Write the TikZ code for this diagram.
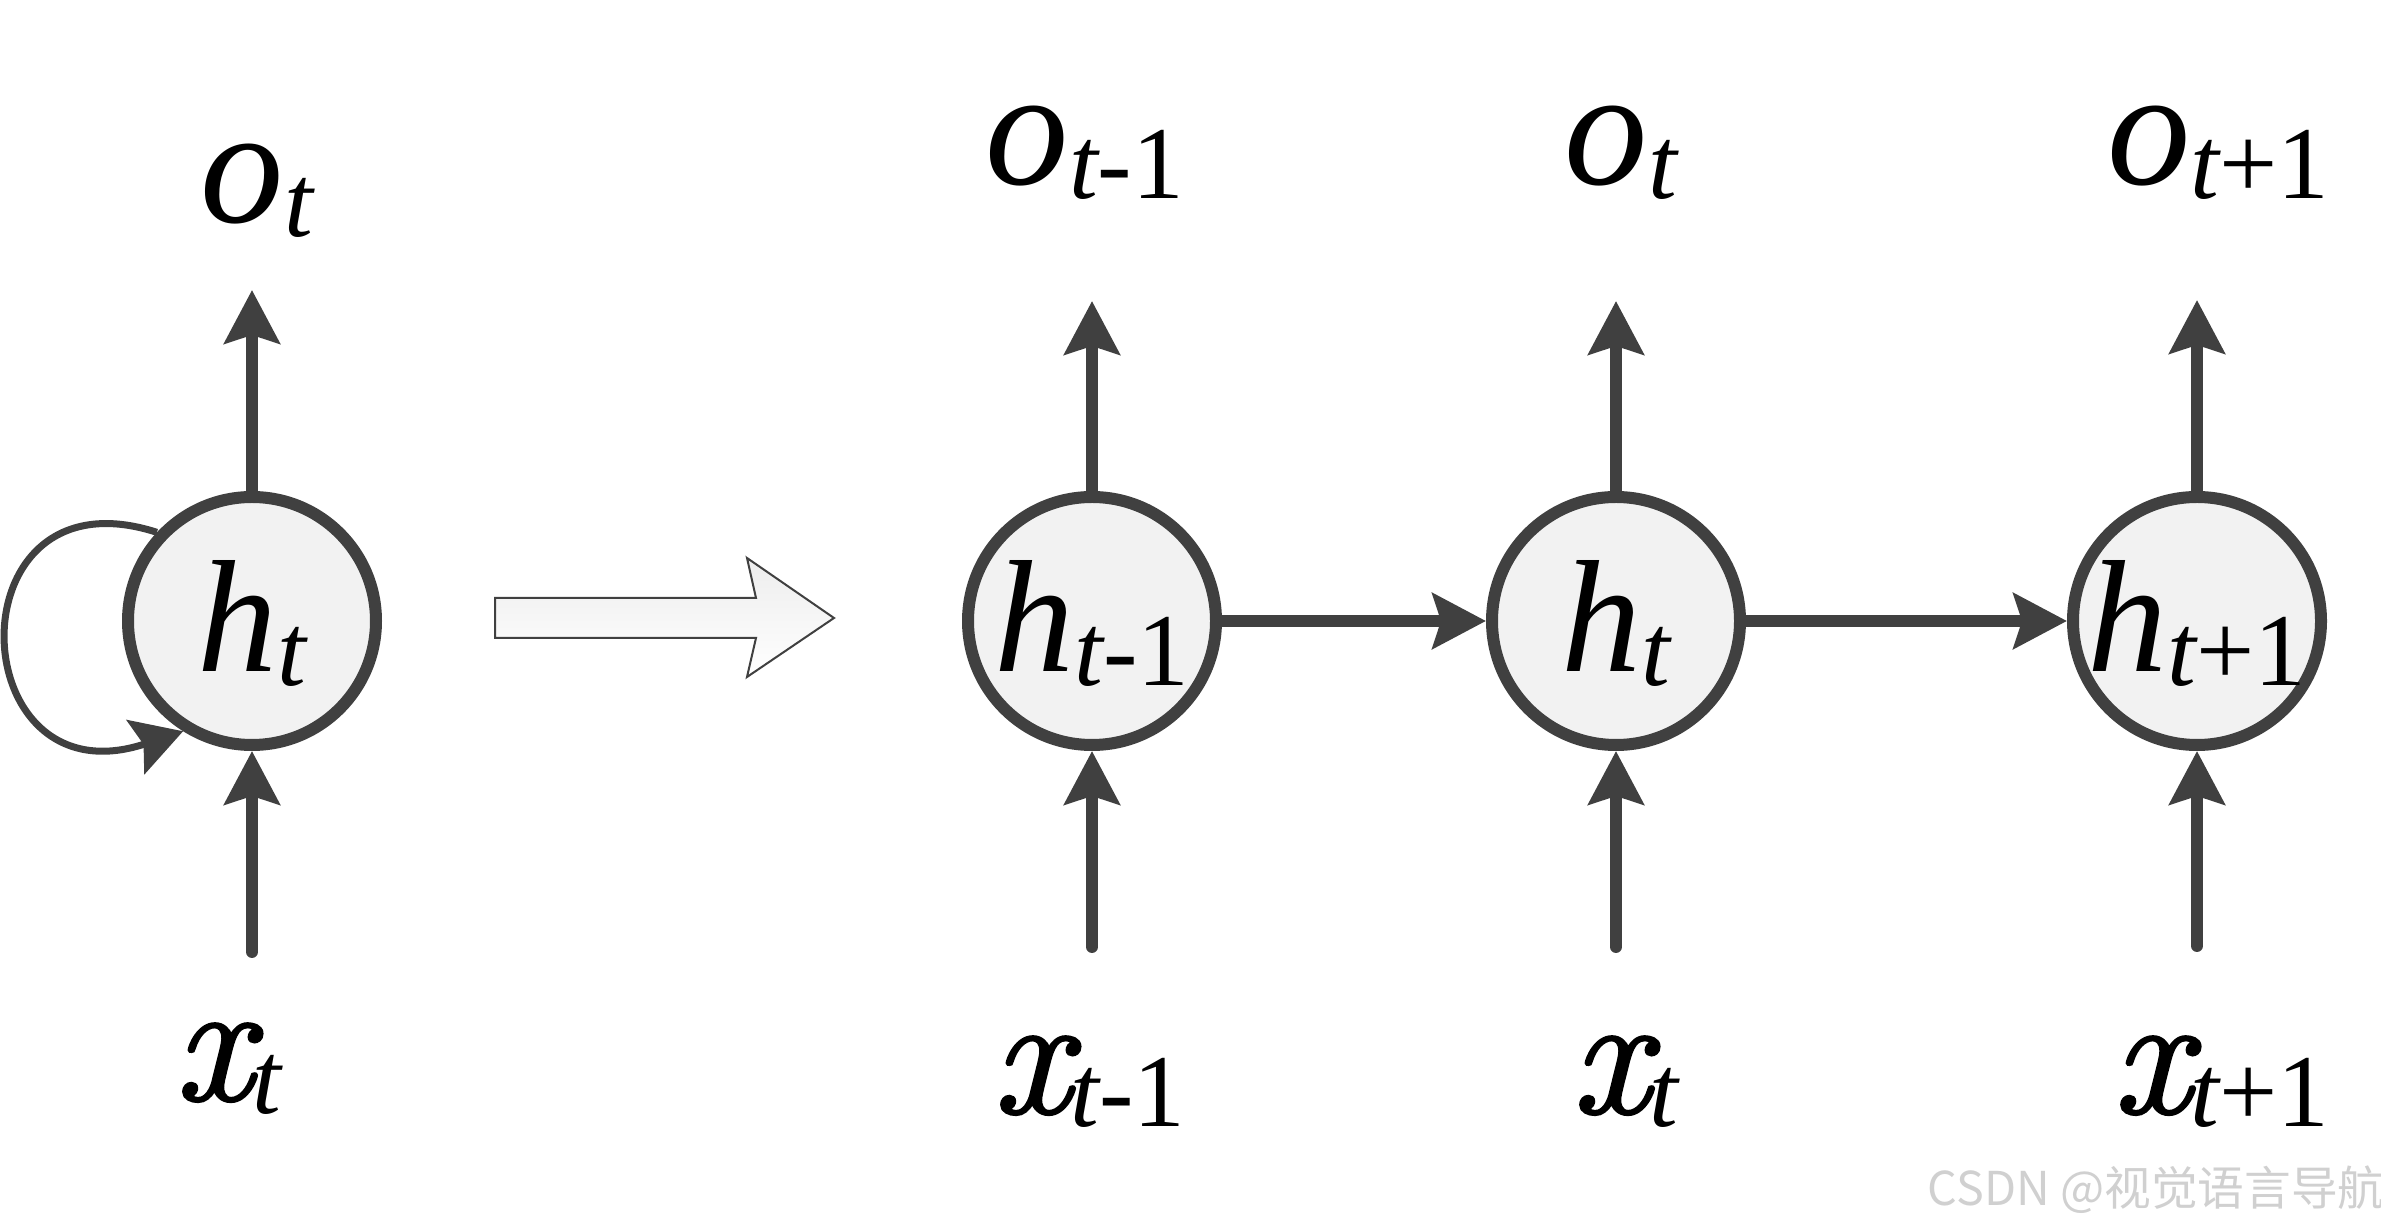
\documentclass[tikz,border=0pt]{standalone}
\usepackage{fontspec}
\newfontfamily\cjkfont{Noto Sans CJK SC}
\newfontfamily\symfont{Liberation Serif}
\newfontfamily\xfont{Latin Modern Roman}[ItalicFeatures={FakeBold=1.6}]
\usetikzlibrary{arrows.meta,backgrounds}
\definecolor{dk}{HTML}{404040}
\definecolor{nodefill}{HTML}{F2F2F2}
\definecolor{wmcol}{HTML}{D0D0D0}
\newcommand\rnnlab[3]{{\symfont\fontsize{#1}{#1}\selectfont\itshape #2}\raisebox{-4pt}{\symfont\fontsize{31pt}{31pt}\selectfont #3}}
\newcommand\xlab[1]{{\xfont\fontsize{52pt}{52pt}\selectfont\itshape x}\raisebox{-4pt}{\symfont\fontsize{31pt}{31pt}\selectfont #1}}
\begin{document}
\begin{tikzpicture}[x=0.3pt,y=-0.3pt,
  rnn/.style={circle, draw=dk, fill=nodefill, line width=3.6pt, minimum size=74.4pt,
    inner sep=0pt, text height=30.6pt, text depth=0pt},
  lbl/.style={inner sep=0pt, anchor=base},
  conn/.style={draw=dk, line width=3.6pt, line cap=round,
    -{Stealth[length=16pt,width=16.5pt,inset=2.5pt]}},
  loopconn/.style={draw=dk, line width=2.1pt,
    -{Stealth[length=15pt,width=17pt,inset=2.5pt]}}]
\useasboundingbox (0,0) rectangle (2381,1231);

% nodes
\node[rnn] (h0) at (252,621) {\rnnlab{48pt}{h}{\itshape t}};
\node[rnn] (h1) at (1092,621) {\rnnlab{48pt}{h}{{\itshape t}-1}};
\node[rnn] (h2) at (1616,621) {\rnnlab{48pt}{h}{\itshape t}};
\node[rnn] (h3) at (2197,621) {\rnnlab{48pt}{h}{{\itshape t}+1}};

% labels
\node[lbl] (o0) at (257,223) {\rnnlab{50pt}{o}{\itshape t}};
\node[lbl] (o1) at (1085,185) {\rnnlab{50pt}{o}{{\itshape t}-1}};
\node[lbl] (o2) at (1621,185) {\rnnlab{50pt}{o}{\itshape t}};
\node[lbl] (o3) at (2218,185) {\rnnlab{50pt}{o}{{\itshape t}+1}};
\node[lbl] (x0) at (228,1100) {\xlab{\itshape t}};
\node[lbl] (x1) at (1089,1113) {\xlab{{\itshape t}-1}};
\node[lbl] (x2) at (1625,1113) {\xlab{\itshape t}};
\node[lbl] (x3) at (2221,1113) {\xlab{{\itshape t}+1}};

% free ends
\coordinate (ot0) at (252,290);
\coordinate (ot1) at (1092,301);
\coordinate (ot2) at (1616,301);
\coordinate (ot3) at (2197,300);
\coordinate (xb0) at (252,952);
\coordinate (xb1) at (1092,947);
\coordinate (xb2) at (1616,947);
\coordinate (xb3) at (2197,946);

% vertical connectors
\draw[conn] (h0.north) -- (ot0);
\draw[conn] (h1.north) -- (ot1);
\draw[conn] (h2.north) -- (ot2);
\draw[conn] (h3.north) -- (ot3);
\draw[conn] (xb0) -- (h0.south);
\draw[conn] (xb1) -- (h1.south);
\draw[conn] (xb2) -- (h2.south);
\draw[conn] (xb3) -- (h3.south);

% horizontal connectors
\draw[conn] (h1.east) -- (h2.west);
\draw[conn] (h2.east) -- (h3.west);

% self loop
\begin{scope}[on background layer]
\draw[loopconn] (h0.137) .. controls +(-207,-67) and +(-223,74) .. (h0.238);
\end{scope}

% unfold arrow
\draw[draw=dk, line width=0.6pt, top color=gray!14, bottom color=white]
  (495,598) -- (756,598) -- (747,558) -- (834,618) -- (747,677) -- (756,638) -- (495,638) -- cycle;

% watermark
\node[anchor=base west, text=wmcol, inner sep=0pt,
  font=\cjkfont\fontsize{14pt}{14pt}\selectfont] (wm) at (1927,1205) {CSDN @视觉语言导航};
\end{tikzpicture}
\end{document}
